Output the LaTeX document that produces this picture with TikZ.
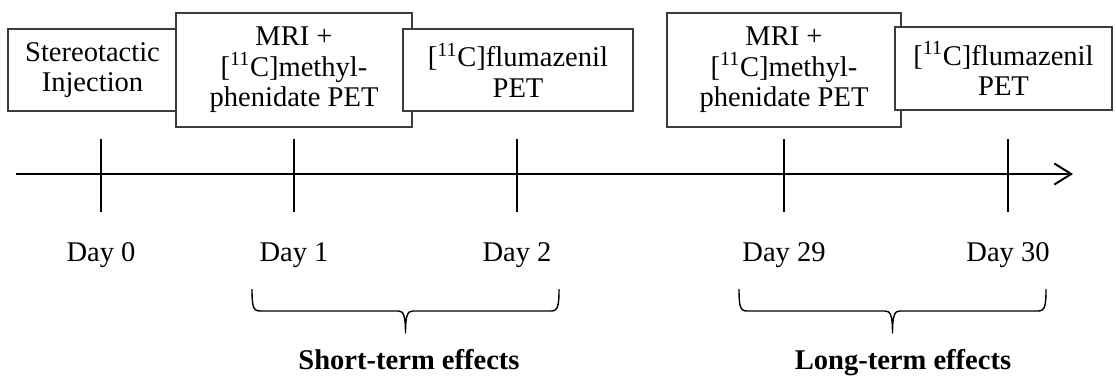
\documentclass[tikz,border=0pt]{standalone}
\usepackage{fontspec}
\setmainfont{Liberation Serif}
\usetikzlibrary{arrows.meta,positioning}
\definecolor{BoxLine}{RGB}{60,60,60}
\newcommand{\tlfont}{\fontsize{20.3}{21.6}\selectfont}
\newcommand{\Cel}{[\textsuperscript{11}C]}
\tikzset{
  stagebox/.style={draw=BoxLine,fill=white,line width=0.9pt,align=center,
                   inner sep=0pt,font=\tlfont},
  lowbox/.style={stagebox,minimum height=2.05cm},
  highbox/.style={stagebox,minimum height=2.85cm},
  axisline/.style={-{Straight Barb[length=12pt,width=15pt,line width=1.4pt]},
                   line width=2.1pt},
  tickline/.style={line width=2.1pt},
  daylbl/.style={font=\tlfont,anchor=base,inner sep=0pt},
  bracelbl/.style={font=\tlfont\bfseries,anchor=base,inner sep=0pt},
  brace/.style={line width=1pt,line join=round},
}
\begin{document}
\begin{tikzpicture}[x=0.025cm,y=-0.025cm]
  \useasboundingbox (0,0) rectangle (1116,377);
  % study stages
  \node[lowbox,minimum width=4.225cm] (inj) at (92.5,70) {Stereotactic\\Injection};
  \node[highbox,minimum width=5.9cm] (mph1) at (294,70) {MRI +\\\Cel methyl-\\phenidate PET};
  \node[lowbox,minimum width=5.75cm] (flu1) at (518,70) {\Cel flumazenil\\PET};
  \node[highbox,minimum width=5.85cm] (mph2) at (784,70) {MRI +\\\Cel methyl-\\phenidate PET};
  \node[lowbox,minimum width=5.425cm,minimum height=2.075cm] (flu2) at (1003.5,68.5) {\Cel flumazenil\\PET};
  % time axis
  \coordinate (axstart) at (16,174);
  \coordinate (axend) at (1073,174);
  \draw[axisline] (axstart) -- (axend);
  \foreach \x/\d/\n in {101/Day 0/d0,294/Day 1/d1,517/Day 2/d2,784/Day 29/d29,1008/Day 30/d30}{
    \coordinate (\n-t) at (\x,139);
    \coordinate (\n-b) at (\x,212);
    \draw[tickline] (\n-t) -- (\n-b);
    \node[daylbl] (\n) at (\x,261) {\d};
  }
  % effect braces
  \draw[brace] (252,289) .. controls (252,306) and (253,311) .. (260,311) -- (398,311)
    .. controls (403,311) and (405.5,314) .. (405.5,333)
    .. controls (405.5,314) and (408,311) .. (413,311) -- (551,311)
    .. controls (558,311) and (559,306) .. (559,289);
  \draw[brace] (739,289) .. controls (739,306) and (740,311) .. (747,311) -- (885,311)
    .. controls (890,311) and (892.5,314) .. (892.5,333)
    .. controls (892.5,314) and (895,311) .. (900,311) -- (1038,311)
    .. controls (1045,311) and (1046,306) .. (1046,289);
  \node[bracelbl] (short) at (409,369) {Short-term effects};
  \node[bracelbl] (long) at (903,369) {Long-term effects};
\end{tikzpicture}
\end{document}
